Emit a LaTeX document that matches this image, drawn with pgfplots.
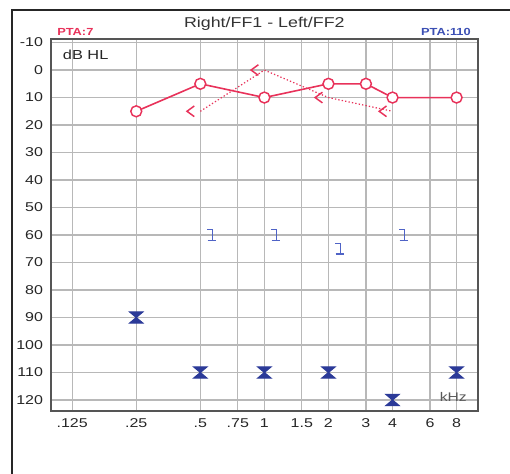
\documentclass[border=0pt]{standalone}
\usepackage{pgfplots}
\pgfplotsset{compat=1.18}
\usepackage{fontspec}
\setmainfont{Liberation Sans}[FakeStretch=1.25]

\definecolor{audred}{HTML}{E8325A}
\definecolor{audblue}{HTML}{2B3A98}
\definecolor{brblue}{HTML}{4F63C6}
\definecolor{ptablue}{HTML}{3C50B4}
\definecolor{gridgray}{HTML}{B8B8B8}
\definecolor{framegray}{HTML}{555555}

% left masked air conduction: chevron drawn left of the frequency
\pgfdeclareplotmark{chevL}{%
  \pgfpathmoveto{\pgfpoint{-4.5pt}{4pt}}%
  \pgfpathlineto{\pgfpoint{-10pt}{0pt}}%
  \pgfpathlineto{\pgfpoint{-4.5pt}{-4pt}}%
  \pgfusepathqstroke}
% bracket with foot, drawn right of the frequency
\pgfdeclareplotmark{brk}{%
  \pgfpathmoveto{\pgfpoint{5.2pt}{3.9pt}}%
  \pgfpathlineto{\pgfpoint{9pt}{3.9pt}}%
  \pgfpathlineto{\pgfpoint{9pt}{-3.9pt}}%
  \pgfpathmoveto{\pgfpoint{5.4pt}{-3.9pt}}%
  \pgfpathlineto{\pgfpoint{11.6pt}{-3.9pt}}%
  \pgfusepathqstroke}
% filled hourglass
\pgfdeclareplotmark{hglass}{%
  \pgfpathmoveto{\pgfpoint{-5pt}{4.2pt}}%
  \pgfpathlineto{\pgfpoint{5pt}{4.2pt}}%
  \pgfpathlineto{\pgfpoint{-5pt}{-4.2pt}}%
  \pgfpathlineto{\pgfpoint{5pt}{-4.2pt}}%
  \pgfpathclose
  \pgfusepathqfillstroke}

\begin{document}
\begin{tikzpicture}
\useasboundingbox (-38.25pt,-47.25pt) rectangle (344.25pt,308.25pt);
\begin{axis}[
    width=320pt, height=278.8pt, scale only axis,
    xmode=log, log basis x=2,
    xmin=0.0994, xmax=10.05,
    ymin=-11.2, ymax=124, y dir=reverse,
    xtick={0.125,0.25,0.5,0.75,1,1.5,2,3,4,6,8},
    xticklabels={.125,.25,.5,.75,1,1.5,2,3,4,6,8},
    ytick={-10,0,10,20,30,40,50,60,70,80,90,100,110,120},
    yticklabels={-10,0,10,20,30,40,50,60,70,80,90,100,110,120},
    grid=major,
    major grid style={gridgray, line width=0.9pt},
    major tick length=0pt,
    axis line style={framegray, line width=1.4pt},
    tick label style={font=\fontsize{9.6}{10}\selectfont, text=black!85},
    /pgf/number format/assume math mode=true,
    yticklabel style={xshift=-2.5pt},
    xticklabel style={yshift=-2pt},
    clip=false,
  ]
  % left, masked (dotted)
  \addplot[audred, line width=0.9pt, dash pattern=on 1pt off 1.6pt,
    mark=chevL, mark options={solid, line width=1.1pt}]
    coordinates {(0.5,15) (1,0) (2,10) (4,15)};
  % right air conduction
  \addplot[audred, line width=1.2pt, mark=*, mark size=4.1pt,
    mark options={fill=white, line width=1.1pt}]
    coordinates {(0.25,15) (0.5,5) (1,10) (2,5) (3,5) (4,10) (8,10)};
  % bone conduction brackets
  \addplot[brblue, only marks, mark=brk, mark options={line width=1pt}]
    coordinates {(0.5,60) (1,60) (2,65) (4,60)};
  % free field
  \addplot[audblue, only marks, mark=hglass, mark options={line width=0.8pt}]
    coordinates {(0.25,90) (0.5,110) (1,110) (2,110) (4,120) (8,110)};

  \node[anchor=base, inner sep=0, text=black!80, font=\fontsize{10.7}{12}\selectfont]
    at (axis description cs:0.5,1) [yshift=9pt] {Right/FF1 - Left/FF2};
  \node[anchor=base west, inner sep=0, text=audred, font=\fontsize{7.7}{9}\selectfont\bfseries]
    at (axis description cs:0,1) [xshift=4.5pt, yshift=2.5pt] {PTA:7};
  \node[anchor=base east, inner sep=0, text=ptablue, font=\fontsize{7.7}{9}\selectfont\bfseries]
    at (axis description cs:1,1) [xshift=-5pt, yshift=2.5pt] {PTA:110};
  \node[anchor=base west, inner sep=0, text=black!85, font=\fontsize{9.8}{11}\selectfont]
    at (axis description cs:0,1) [xshift=8.8pt, yshift=-15.5pt] {dB HL};
  \node[anchor=base east, inner sep=0, text=black!65, font=\fontsize{9.4}{11}\selectfont]
    at (axis description cs:1,0) [xshift=-8pt, yshift=7.5pt] {kHz};
\end{axis}
\draw[line width=1.1pt, black!85] (-29.25pt,-60pt) -- (-29.25pt,300.75pt) -- (360pt,300.75pt);
\end{tikzpicture}
\end{document}
